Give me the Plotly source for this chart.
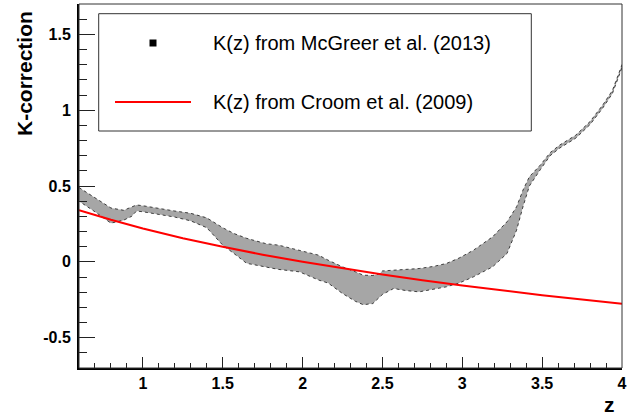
import plotly.graph_objects as go

# Redshift grid and the spread of the McGreer et al. (2013) K-correction
z_band = [0.60, 0.70, 0.80, 0.88, 0.93, 0.96, 1.00, 1.10, 1.20, 1.30, 1.40, 1.50,
          1.57, 1.65, 1.77, 1.85, 1.98, 2.10, 2.16, 2.25, 2.33, 2.38, 2.44, 2.48,
          2.50, 2.57, 2.65, 2.73, 2.82, 2.90, 2.98, 3.07, 3.19, 3.28, 3.34, 3.38,
          3.42, 3.49, 3.55, 3.61, 3.71, 3.80, 3.88, 3.94, 4.00]
k_upper = [0.49, 0.42, 0.355, 0.34, 0.36, 0.375, 0.37, 0.35, 0.335, 0.32, 0.29, 0.225,
           0.187, 0.155, 0.12, 0.11, 0.077, 0.044, 0.011, -0.033, -0.065, -0.088, -0.09, -0.08,
           -0.06, -0.055, -0.05, -0.044, -0.03, -0.011, 0.025, 0.077, 0.165, 0.264, 0.363, 0.473,
           0.561, 0.64, 0.72, 0.77, 0.835, 0.925, 1.035, 1.13, 1.30]
k_lower = [0.40, 0.33, 0.255, 0.275, 0.30, 0.335, 0.33, 0.315, 0.295, 0.27, 0.225, 0.11,
           0.055, -0.01, -0.035, -0.05, -0.066, -0.12, -0.14, -0.209, -0.26, -0.283, -0.275, -0.235,
           -0.215, -0.176, -0.19, -0.198, -0.18, -0.165, -0.14, -0.099, -0.033, 0.055, 0.209, 0.363,
           0.50, 0.61, 0.70, 0.75, 0.815, 0.905, 1.015, 1.11, 1.28]

# Croom et al. (2009) K-correction
z_croom = [0.6, 0.8, 1.0, 1.25, 1.5, 1.75, 2.0, 2.25, 2.5, 2.75, 3.0, 3.5, 4.0]
k_croom = [0.341, 0.277, 0.220, 0.156, 0.099, 0.047, 0.0, -0.043, -0.084, -0.121, -0.156, -0.220, -0.277]

x_ticks = [1, 1.5, 2, 2.5, 3, 3.5, 4]
x_labels = ["1", "1.5", "2", "2.5", "3", "3.5", "4"]
y_ticks = [-0.5, 0, 0.5, 1, 1.5]
y_labels = ["-0.5", "0", "0.5", "1", "1.5"]

legend_labels = ["K(z) from McGreer et al. (2013)", "K(z) from Croom et al. (2009)"]

W, H = 637, 416
L, R, T, B = 79, 15, 4, 48
PW, PH = W - L - R, H - T - B


def px(x):
    return (x - L) / PW


def py(y):
    return (H - B - y) / PH


FONT = "Liberation Sans, Arial, Helvetica, sans-serif"

fig = go.Figure()

# dotted band of the McGreer K-correction
fig.add_trace(go.Scatter(
    x=z_band + z_band[::-1],
    y=k_upper + k_lower[::-1],
    mode="lines",
    fill="toself",
    fillcolor="rgba(0,0,0,0)",
    fillpattern=dict(shape=".", fgcolor="black", bgcolor="rgba(0,0,0,0)",
                     size=2, solidity=0.7),
    line=dict(color="rgba(0,0,0,0.7)", width=1, dash="dot"),
    hoverinfo="skip",
    showlegend=False,
))

fig.add_trace(go.Scatter(
    x=z_croom, y=k_croom, mode="lines",
    line=dict(color="#ff0000", width=2),
    showlegend=False,
))

axis_common = dict(
    showgrid=False, zeroline=False,
    showline=True, linecolor="black", linewidth=2, mirror=False,
    ticks="inside", tickcolor="#222222", tickwidth=1,
    tickfont=dict(family=FONT, size=16, color="black", weight="bold"),
)

fig.update_xaxes(
    range=[0.6, 4.0], tickvals=x_ticks, ticktext=x_labels, ticklen=11,
    minor=dict(ticks="inside", ticklen=5.5, dtick=0.1, tick0=0, tickcolor="#222222", tickwidth=1),
    **axis_common,
)
fig.update_yaxes(
    range=[-0.7, 1.7], tickvals=y_ticks, ticktext=y_labels, ticklen=16,
    ticklabelstandoff=3,
    minor=dict(ticks="inside", ticklen=8, dtick=0.1, tick0=0, tickcolor="#222222", tickwidth=1),
    **axis_common,
)

shapes = [
    # frame
    dict(type="rect", xref="paper", yref="paper", x0=0, x1=1, y0=0, y1=1,
         line=dict(color="#333333", width=1)),
    # legend box
    dict(type="rect", xref="paper", yref="paper",
         x0=px(98.7), x1=px(531.3), y0=py(131), y1=py(13.7),
         line=dict(color="#333333", width=1), fillcolor="white", layer="above"),
    # legend marker
    dict(type="rect", xref="paper", yref="paper",
         x0=px(149.5), x1=px(156.5), y0=py(46.5), y1=py(39.5),
         line=dict(width=0), fillcolor="black", layer="above"),
    # legend line
    dict(type="line", xref="paper", yref="paper",
         x0=px(115), x1=px(191), y0=py(102), y1=py(102),
         line=dict(color="#ff0000", width=2), layer="above"),
]

annotations = [
    dict(text=legend_labels[0], xref="paper", yref="paper", x=px(211), y=py(43),
         xanchor="left", yanchor="middle", showarrow=False,
         font=dict(family=FONT, size=20, color="black")),
    dict(text=legend_labels[1], xref="paper", yref="paper", x=px(211), y=py(102),
         xanchor="left", yanchor="middle", showarrow=False,
         font=dict(family=FONT, size=20, color="black")),
    dict(text="z", xref="paper", yref="paper", x=px(617), y=py(404),
         xanchor="right", yanchor="middle", showarrow=False,
         font=dict(family=FONT, size=21, color="black", weight="bold")),
    dict(text="K-correction", xref="paper", yref="paper", x=px(24.5), y=py(9),
         xanchor="center", yanchor="top", textangle=-90, showarrow=False,
         font=dict(family=FONT, size=21, color="black", weight="bold")),
]

fig.update_layout(
    width=W, height=H,
    margin=dict(l=L, r=R, t=T, b=B, pad=0),
    paper_bgcolor="white", plot_bgcolor="white",
    shapes=shapes, annotations=annotations,
    showlegend=False,
)

fig.write_html("out.html")
